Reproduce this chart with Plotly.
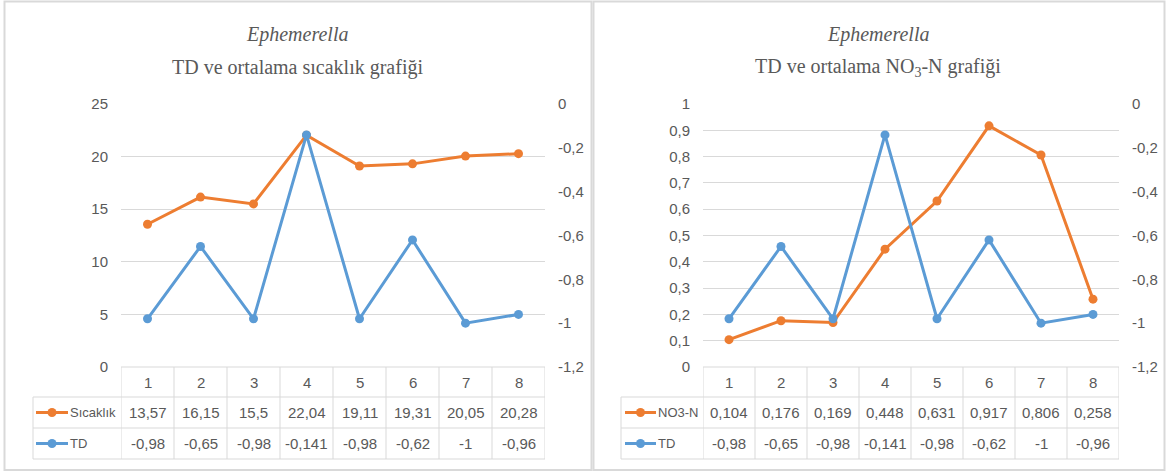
import plotly.graph_objects as go

W, H = 1167, 473

# ---------------- data ----------------
categories = [1, 2, 3, 4, 5, 6, 7, 8]
sicaklik = [13.57, 16.15, 15.5, 22.04, 19.11, 19.31, 20.05, 20.28]
no3n = [0.104, 0.176, 0.169, 0.448, 0.631, 0.917, 0.806, 0.258]
td = [-0.98, -0.65, -0.98, -0.141, -0.98, -0.62, -1, -0.96]

temp_ticks = [0, 5, 10, 15, 20, 25]
temp_ticktext = ["0", "5", "10", "15", "20", "25"]
no3_ticks = [0, 0.1, 0.2, 0.3, 0.4, 0.5, 0.6, 0.7, 0.8, 0.9, 1]
no3_ticktext = ["0", "0,1", "0,2", "0,3", "0,4", "0,5", "0,6", "0,7", "0,8", "0,9", "1"]
td_ticks = [-1.2, -1, -0.8, -0.6, -0.4, -0.2, 0]
td_ticktext = ["-1,2", "-1", "-0,8", "-0,6", "-0,4", "-0,2", "0"]

series_names_left = ["Sıcaklık", "TD"]
series_names_right = ["NO3-N", "TD"]
title_species = "Ephemerella"
title_left = "TD ve ortalama sıcaklık grafiği"
title_right = "TD ve ortalama NO<sub>3</sub>-N grafiği"

ORANGE = "#ED7D31"
BLUE = "#5B9BD5"
GRID = "#D9D9D9"
TXT = "#595959"
SANS = "Liberation Sans Narrow, Arial Narrow, Liberation Sans, Arial, sans-serif"
SERIF = "Liberation Serif, Times New Roman, serif"


def px(x):
    return x / W


def py(y):
    return 1 - y / H


def fmt(v):
    return f"{v:g}".replace(".", ",")


# plot-area geometry (pixels)
TOP, BOT = 104, 367
L_X0, L_X1 = 121, 545
R_X0, R_X1 = 703, 1119
ROW_Y = [367, 397, 428, 459]

fig = go.Figure()

# left chart
fig.add_trace(go.Scatter(x=categories, y=sicaklik, name=series_names_left[0],
                         mode="lines+markers", line=dict(color=ORANGE, width=3),
                         marker=dict(size=9, color=ORANGE), xaxis="x", yaxis="y"))
fig.add_trace(go.Scatter(x=categories, y=td, name=series_names_left[1],
                         mode="lines+markers", line=dict(color=BLUE, width=3),
                         marker=dict(size=9, color=BLUE), xaxis="x", yaxis="y2"))
# right chart
fig.add_trace(go.Scatter(x=categories, y=no3n, name=series_names_right[0],
                         mode="lines+markers", line=dict(color=ORANGE, width=3),
                         marker=dict(size=9, color=ORANGE), xaxis="x2", yaxis="y3"))
fig.add_trace(go.Scatter(x=categories, y=td, name=series_names_right[1],
                         mode="lines+markers", line=dict(color=BLUE, width=3),
                         marker=dict(size=9, color=BLUE), xaxis="x2", yaxis="y4"))

tickfont = dict(family=SANS, size=15, color=TXT)
xcommon = dict(range=[0.5, 8.5], showticklabels=False, showgrid=False,
               zeroline=False, showline=False, fixedrange=True, automargin=False)
ycommon = dict(zeroline=False, showline=False, tickfont=tickfont,
               ticklabelstandoff=12, automargin=False, fixedrange=True)
ydom = [py(BOT), py(TOP)]

fig.update_layout(
    width=W, height=H,
    margin=dict(l=0, r=0, t=0, b=0, pad=0),
    paper_bgcolor="white", plot_bgcolor="white",
    showlegend=False,
    hovermode=False,
    xaxis=dict(domain=[px(L_X0), px(L_X1)], anchor="y", **xcommon),
    xaxis2=dict(domain=[px(R_X0), px(R_X1)], anchor="y3", **xcommon),
    yaxis=dict(domain=ydom, anchor="x", range=[0, 25], tickvals=temp_ticks,
               ticktext=temp_ticktext, showgrid=True, gridcolor=GRID, gridwidth=1,
               **ycommon),
    yaxis2=dict(overlaying="y", side="right", anchor="x", range=[-1.2, 0],
                tickvals=td_ticks, ticktext=td_ticktext, showgrid=False, **ycommon),
    yaxis3=dict(domain=ydom, anchor="x2", range=[0, 1], tickvals=no3_ticks,
                ticktext=no3_ticktext, showgrid=True, gridcolor=GRID, gridwidth=1,
                **ycommon),
    yaxis4=dict(overlaying="y3", side="right", anchor="x2", range=[-1.2, 0],
                tickvals=td_ticks, ticktext=td_ticktext, showgrid=False, **ycommon),
)

shapes = []
annotations = []

# panel borders
for x0, x1 in [(4.5, 591.5), (593.5, 1164.5)]:
    shapes.append(dict(type="rect", xref="paper", yref="paper",
                       x0=px(x0), x1=px(x1), y0=py(470), y1=py(1.5),
                       line=dict(color=GRID, width=2), fillcolor="rgba(0,0,0,0)"))

# titles
for cx, sub in [(297, title_left), (878, title_right)]:
    annotations.append(dict(xref="paper", yref="paper", x=px(cx), y=py(35),
                            text=f"<i>{title_species}</i>", showarrow=False,
                            font=dict(family=SERIF, size=20, color=TXT),
                            xanchor="center", yanchor="middle"))
    annotations.append(dict(xref="paper", yref="paper", x=px(cx), y=py(67),
                            text=sub, showarrow=False,
                            font=dict(family=SERIF, size=20, color=TXT),
                            xanchor="center", yanchor="middle"))

cellfont = dict(family=SANS, size=15, color=TXT)
legfont = dict(family=SANS, size=13, color=TXT)


def data_table(xref, leg_left, leg_line, leg_text_x, rows):
    # top border of the header row (only over the category columns)
    shapes.append(dict(type="line", xref=xref + " domain", yref="paper",
                       x0=0, x1=1, y0=py(ROW_Y[0]), y1=py(ROW_Y[0]),
                       line=dict(color=GRID, width=1)))
    # vertical lines between columns
    bounds = [c - 0.5 for c in categories] + [categories[-1] + 0.5]
    for b in bounds:
        shapes.append(dict(type="line", xref=xref, yref="paper", x0=b, x1=b,
                           y0=py(ROW_Y[0]), y1=py(ROW_Y[3]),
                           line=dict(color=GRID, width=1)))
    shapes.append(dict(type="line", xref="paper", yref="paper",
                       x0=px(leg_left), x1=px(leg_left),
                       y0=py(ROW_Y[1]), y1=py(ROW_Y[3]),
                       line=dict(color=GRID, width=1)))
    # horizontal row lines
    for yy in ROW_Y[1:]:
        shapes.append(dict(type="line", xref=xref + " domain", yref="paper",
                           x0=0, x1=1, y0=py(yy), y1=py(yy),
                           line=dict(color=GRID, width=1)))
    # header numbers
    yc = [(ROW_Y[i] + ROW_Y[i + 1]) / 2 for i in range(3)]
    for c in categories:
        annotations.append(dict(xref=xref, yref="paper", x=c, y=py(yc[0]),
                                text=str(c), showarrow=False, font=cellfont,
                                xanchor="center", yanchor="middle"))
    for r, (vals, name, color) in enumerate(rows):
        y = py(yc[r + 1])
        for c, v in zip(categories, vals):
            annotations.append(dict(xref=xref, yref="paper", x=c, y=y,
                                    text=fmt(v), showarrow=False, font=cellfont,
                                    xanchor="center", yanchor="middle"))
        shapes.append(dict(type="line", xref="paper", yref="paper",
                           x0=px(leg_line[0]), x1=px(leg_line[1]), y0=y, y1=y,
                           line=dict(color=color, width=3)))
        shapes.append(dict(type="circle", xref="paper", yref="paper",
                           xsizemode="pixel", ysizemode="pixel",
                           xanchor=px((leg_line[0] + leg_line[1]) / 2), yanchor=y,
                           x0=-4.5, x1=4.5, y0=-4.5, y1=4.5,
                           fillcolor=color, line=dict(color=color, width=0)))
        annotations.append(dict(xref="paper", yref="paper", x=px(leg_text_x), y=y,
                                text=name, showarrow=False, font=legfont,
                                xanchor="left", yanchor="middle", borderpad=0))


data_table("x", 33, (36, 68), 69,
           [(sicaklik, series_names_left[0], ORANGE), (td, series_names_left[1], BLUE)])
data_table("x2", 621, (625, 656), 657,
           [(no3n, series_names_right[0], ORANGE), (td, series_names_right[1], BLUE)])

# row lines across the legend column
for leg_left, right in [(33, L_X0), (621, R_X0)]:
    for yy in ROW_Y[1:]:
        shapes.append(dict(type="line", xref="paper", yref="paper",
                           x0=px(leg_left), x1=px(right), y0=py(yy), y1=py(yy),
                           line=dict(color=GRID, width=1)))

fig.update_layout(shapes=shapes, annotations=annotations)
fig.write_html("out.html", config={"displayModeBar": False, "staticPlot": True},
               post_script="document.body.style.margin='0';"
                           "document.body.style.overflow='hidden';")
